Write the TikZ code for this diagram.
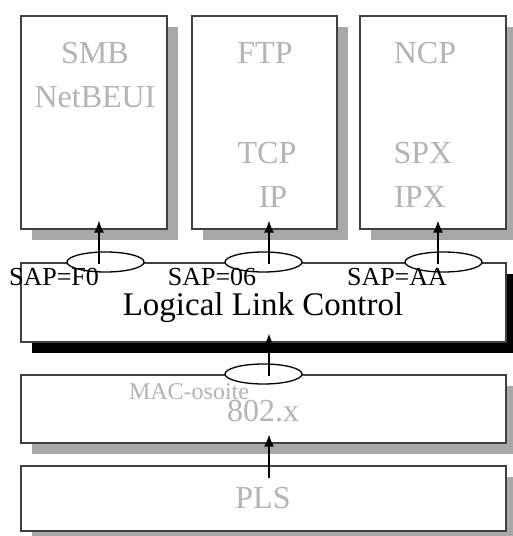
\documentclass[tikz,border=0pt]{standalone}
\usepackage{fontspec}
\setmainfont{Liberation Serif}
\usetikzlibrary{arrows.meta,shadows,shapes.geometric}
\definecolor{shadowgray}{HTML}{A8A8A8}
\definecolor{framegray}{HTML}{404040}
\definecolor{textgray}{HTML}{B4B4B4}
\tikzset{
  layerbox/.style={draw=framegray, line width=1.6pt, fill=white, anchor=north west, inner sep=0pt},
  grayshadow/.style={drop shadow={shadow xshift=11pt, shadow yshift=-11pt, fill=shadowgray, opacity=1}},
  blackshadow/.style={drop shadow={shadow xshift=11pt, shadow yshift=-11pt, fill=black, opacity=1}},
  sap/.style={draw=black, line width=1.3pt, fill=white, ellipse, minimum width=77pt, minimum height=20pt, inner sep=0pt},
  proto/.style={text=textgray, font=\fontsize{32}{36}\selectfont, inner sep=0pt, anchor=base},
  saplabel/.style={text=black, font=\fontsize{26}{30}\selectfont, inner sep=0pt, anchor=base},
  uparrow/.style={line width=1.5pt, -{Latex[length=12pt,width=10pt]}, shorten >=-9pt}
}
\begin{document}
\begin{tikzpicture}[x=1pt, y=-1pt]
\useasboundingbox (0,0) rectangle (513,536);

% upper protocol stacks
\node[layerbox, grayshadow, minimum width=146pt, minimum height=213pt] (smbbox) at (20,15) {};
\node[layerbox, grayshadow, minimum width=145pt, minimum height=213pt] (tcpbox) at (191,15) {};
\node[layerbox, grayshadow, minimum width=146pt, minimum height=213pt] (ipxbox) at (359,15) {};

% lower layers
\node[layerbox, grayshadow, minimum width=485pt, minimum height=65pt] (plsbox) at (20,465) {};
\node[layerbox, grayshadow, minimum width=485pt, minimum height=68pt] (macbox) at (20,374) {};
\node[layerbox, blackshadow, minimum width=485pt, minimum height=79pt] (llcbox) at (20,262) {};

% service access points
\node[sap] (sapf0) at (105.5,262) {};
\node[sap] (sap06) at (263.5,262) {};
\node[sap] (sapaa) at (443.5,262) {};
\node[sap] (sapmac) at (263.5,374) {};

% arrow start points
\coordinate (a1) at (99,264);
\coordinate (a2) at (269,264);
\coordinate (a3) at (438,264);
\coordinate (a4) at (269,376);
\coordinate (a5) at (269,478);

\draw[uparrow] (a1) -- (a1 |- smbbox.south);
\draw[uparrow] (a2) -- (a2 |- tcpbox.south);
\draw[uparrow] (a3) -- (a3 |- ipxbox.south);
\draw[uparrow] (a4) -- (a4 |- llcbox.south);
\draw[uparrow] (a5) -- (a5 |- macbox.south);

% protocol names
\node[proto] (smb) at (95,63) {SMB};
\node[proto] (netbeui) at (95,107) {NetBEUI};
\node[proto] (ftp) at (265,63) {FTP};
\node[proto] (tcp) at (267,163) {TCP};
\node[proto] (ip) at (273,207) {IP};
\node[proto] (ncp) at (425,63) {NCP};
\node[proto] (spx) at (423,163) {SPX};
\node[proto] (ipx) at (420,207) {IPX};

% SAP labels
\node[saplabel] (lf0) at (54,285) {SAP=F0};
\node[saplabel] (l06) at (212,285) {SAP=06};
\node[saplabel] (laa) at (397,285) {SAP=AA};

\node[text=black, font=\fontsize{33}{38}\selectfont, inner sep=0pt, anchor=base] (llc) at (263,315) {Logical Link Control};
\node[text=textgray, font=\fontsize{24}{28}\selectfont, inner sep=0pt, anchor=base] (macaddr) at (189,399) {MAC-osoite};
\node[proto] (x802) at (263,421) {802.x};
\node[proto] (pls) at (263,508) {PLS};
\end{tikzpicture}
\end{document}
